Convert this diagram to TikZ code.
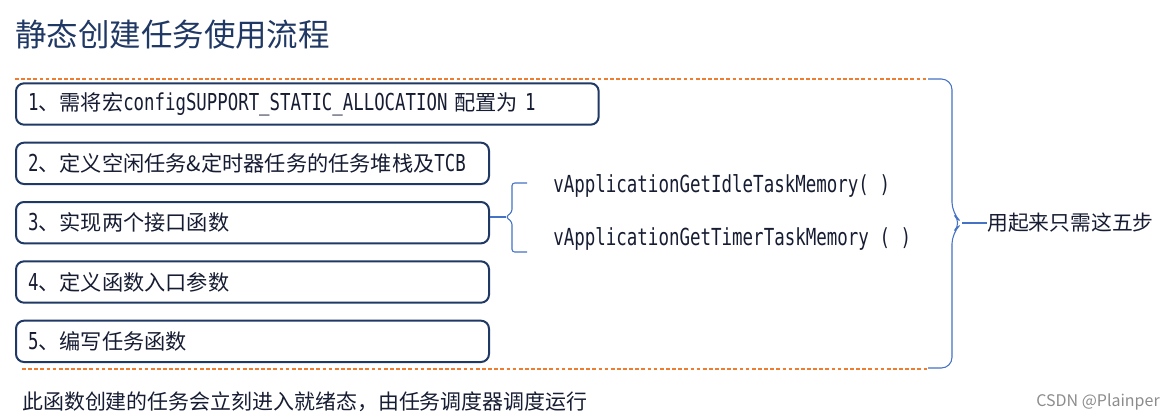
\documentclass[tikz,border=0pt]{standalone}
\usepackage{fontspec}
\setmainfont{Noto Sans CJK SC}
\setmonofont[Scale=1.1,FakeStretch=0.745]{DejaVu Sans Mono}
\usetikzlibrary{positioning}
\definecolor{StepNavy}{RGB}{32,56,100}
\definecolor{InkDark}{RGB}{22,28,50}
\definecolor{BraceBlue}{RGB}{68,114,196}
\definecolor{GuideOrange}{RGB}{237,125,49}
\tikzset{
  stepbox/.style={draw=StepNavy,line width=1.5pt,rounded corners=6pt,
    minimum height=31pt,inner xsep=9pt,inner ysep=1pt,align=left,text=InkDark,
    font=\fontsize{15.9pt}{18pt}\selectfont},
  guide/.style={draw=GuideOrange,line width=1pt,dash pattern=on 2.8pt off 1.8pt},
  bracket/.style={draw=BraceBlue,line width=0.8pt,rounded corners=2pt},
  fnlabel/.style={anchor=west,inner sep=0pt,text=InkDark,
    font=\fontsize{16pt}{18pt}\selectfont\ttfamily},
  note/.style={anchor=west,inner sep=0pt,text=InkDark,
    font=\fontsize{15.7pt}{18pt}\selectfont}
}
\newcommand\mono[1]{{\ttfamily #1}}

\begin{document}
\begin{tikzpicture}[x=0.75pt,y=-0.75pt,node distance=12pt]
  \useasboundingbox (0,0) rectangle (1165,419);
  \node[anchor=west,inner sep=0pt,text=StepNavy,font=\fontsize{23.6pt}{26pt}\selectfont] (title) at (15,35) {静态创建任务使用流程};
  \coordinate (gtopL) at (15,79);
  \coordinate (gtopR) at (928,79);
  \coordinate (gbotL) at (22,369);
  \coordinate (gbotR) at (928,369);
  \draw[guide] (gtopL) -- (gtopR);
  \draw[guide] (gbotL) -- (gbotR);
  \node[stepbox,text width=419pt,anchor=west] (s1) at (15,104) {\mono{1}、需将宏\mono{configSUPPORT\_STATIC\_ALLOCATION} 配置为 \mono{1}};
  \node[stepbox,text width=336.75pt,below=of s1.south west,anchor=north west] (s2) {\mono{2}、定义空闲任务\&定时器任务的任务堆栈及\mono{TCB}};
  \node[stepbox,text width=336.75pt,below=of s2] (s3) {\mono{3}、实现两个接口函数};
  \node[stepbox,text width=336.75pt,below=of s3] (s4) {\mono{4}、定义函数入口参数};
  \node[stepbox,text width=336.75pt,below=of s4] (s5) {\mono{5}、编写任务函数};
  \node[fnlabel] (fn1) at (553,186) {vApplicationGetIdleTaskMemory( )};
  \node[fnlabel] (fn2) at (553,239) {vApplicationGetTimerTaskMemory ( )};
  \coordinate (fntip) at (506,217);
  \draw[bracket] (527,183) -- (512,183) -- (512,212) -- (fntip) -- (512,222) -- (512,252) -- (527,252);
  \draw[bracket] (fntip) -- (fntip -| s3.east);
  \node[note,font=\fontsize{15.6pt}{18pt}\selectfont] (summary) at (987,223) {用起来只需这五步};
  \coordinate (alltip) at (962,223);
  \draw[bracket,rounded corners=8pt] (928,79) -- (952,79) -- (952,213) -- (alltip) -- (952,233) -- (952,368) -- (928,368);
  \draw[bracket] (alltip) -- (summary.west);
  \node[note] (remark) at (22,402) {此函数创建的任务会立刻进入就绪态，由任务调度器调度运行};
  \node[anchor=east,inner sep=0pt,text=black!45,font=\fontsize{12pt}{14pt}\selectfont] (mark) at (1160,402) {CSDN @Plainper};
\end{tikzpicture}
\end{document}
